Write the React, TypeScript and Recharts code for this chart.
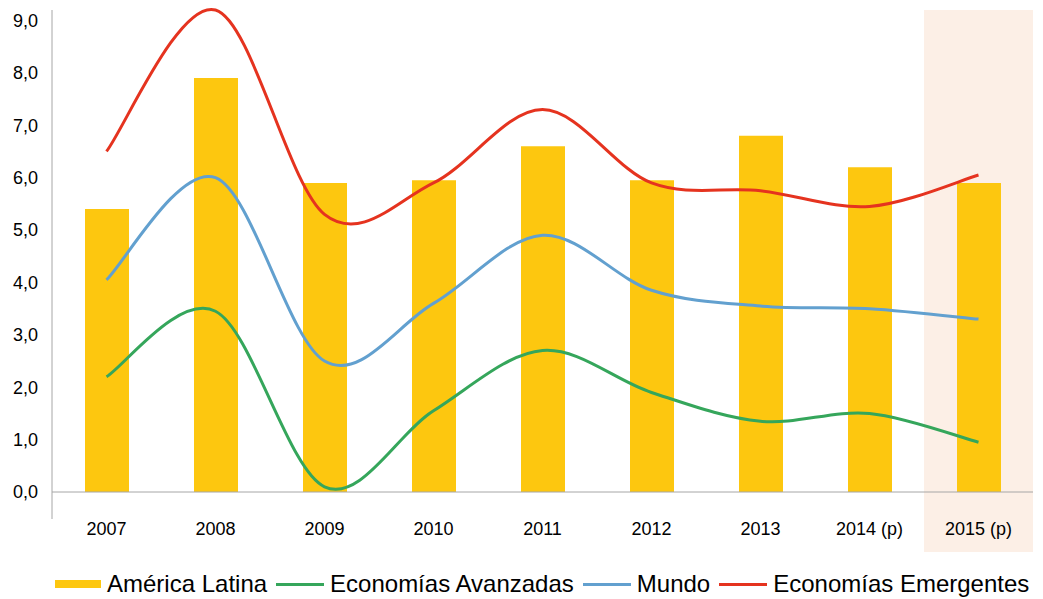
import {
  ComposedChart,
  Bar,
  Line,
  XAxis,
  YAxis,
  ReferenceArea,
  Legend,
} from "recharts";

// annual growth rates (%), 2014 and 2015 are projections
const years = ["2007", "2008", "2009", "2010", "2011", "2012", "2013", "2014 (p)", "2015 (p)"];
const americaLatina = [5.4, 7.9, 5.9, 5.95, 6.6, 5.95, 6.8, 6.2, 5.9];
const avanzadas = [2.2, 3.45, 0.1, 1.55, 2.7, 1.9, 1.35, 1.5, 0.95];
const mundo = [4.05, 6.0, 2.5, 3.6, 4.9, 3.85, 3.55, 3.5, 3.3];
const emergentes = [6.5, 9.2, 5.3, 5.9, 7.3, 5.9, 5.75, 5.45, 6.05];
const yTicks = [0, 1, 2, 3, 4, 5, 6, 7, 8, 9];
const projectedYear = "2015 (p)";

const data = years.map((year, i) => ({
  year,
  americaLatina: americaLatina[i],
  avanzadas: avanzadas[i],
  mundo: mundo[i],
  emergentes: emergentes[i],
}));

const COLORS = {
  bar: "#fdc70f",
  green: "#35a65b",
  blue: "#62a0cf",
  red: "#e5331f",
  axis: "#a6a6a6",
  highlight: "#fcefe6",
};

const FONT = "'Liberation Sans', Arial, sans-serif";

const legendItems = [
  { label: "América Latina", color: COLORS.bar, bar: true },
  { label: "Economías Avanzadas", color: COLORS.green, bar: false },
  { label: "Mundo", color: COLORS.blue, bar: false },
  { label: "Economías Emergentes", color: COLORS.red, bar: false },
];

// spreadsheet-style smoothed line: cardinal bezier through every point
function smoothCurve(context: any) {
  let pts: [number, number][] = [];
  return {
    areaStart() {},
    areaEnd() {},
    lineStart() {
      pts = [];
    },
    point(x: number, y: number) {
      pts.push([+x, +y]);
    },
    lineEnd() {
      const n = pts.length;
      if (!n) return;
      context.moveTo(pts[0][0], pts[0][1]);
      for (let i = 0; i < n - 1; i++) {
        const p0 = pts[Math.max(i - 1, 0)];
        const p1 = pts[i];
        const p2 = pts[i + 1];
        const p3 = pts[Math.min(i + 2, n - 1)];
        context.bezierCurveTo(
          p1[0] + (p2[0] - p0[0]) / 6,
          p1[1] + (p2[1] - p0[1]) / 6,
          p2[0] - (p3[0] - p1[0]) / 6,
          p2[1] - (p3[1] - p1[1]) / 6,
          p2[0],
          p2[1]
        );
      }
    },
  };
}

const formatTick = (v: number) => v.toFixed(1).replace(".", ",");

function ChartLegend() {
  return (
    <div
      style={{
        display: "flex",
        alignItems: "center",
        height: 30,
        paddingLeft: 55,
        fontSize: 24,
        fontFamily: FONT,
        color: "#000",
        whiteSpace: "nowrap",
      }}
    >
      {legendItems.map((item) => (
        <div key={item.label} style={{ display: "flex", alignItems: "center", marginRight: 9 }}>
          <span
            style={{
              display: "inline-block",
              width: item.bar ? 46 : 48,
              height: item.bar ? 8 : 3,
              background: item.color,
              marginRight: 6,
            }}
          />
          <span>{item.label}</span>
        </div>
      ))}
    </div>
  );
}

export default function App() {
  return (
    <div style={{ position: "absolute", left: 0, top: 0, width: 1043, height: 599, background: "#fff", fontFamily: FONT }}>
      <ComposedChart
        width={1043}
        height={599}
        data={data}
        margin={{ top: 10, right: 10, bottom: 0, left: 0 }}
      >
        {/* shaded projection column, running down past the axis labels */}
        <ReferenceArea
          x1={projectedYear}
          x2={projectedYear}
          shape={(p: any) => (
            <rect x={p.x} y={p.y} width={p.width} height={p.height + 60} fill={COLORS.highlight} />
          )}
        />
        {/* vertical axis line, extended below the category axis */}
        <ReferenceArea
          x1={years[0]}
          x2={years[years.length - 1]}
          shape={(p: any) => (
            <line x1={p.x} x2={p.x} y1={p.y} y2={p.y + p.height + 27} stroke={COLORS.axis} strokeWidth={1} />
          )}
        />
        <XAxis
          dataKey="year"
          interval={0}
          height={77}
          tickLine={false}
          tickSize={0}
          tickMargin={30}
          axisLine={{ stroke: COLORS.axis }}
          tick={{ fontSize: 18, fill: "#000" }}
        />
        <YAxis
          width={52}
          domain={[0, 9.2]}
          ticks={yTicks}
          tickFormatter={formatTick}
          axisLine={false}
          tickLine={false}
          tickSize={0}
          tickMargin={14}
          tick={{ fontSize: 18, fill: "#000" }}
        />
        <Bar dataKey="americaLatina" name="América Latina" fill={COLORS.bar} barSize={44} isAnimationActive={false} />
        <Line dataKey="avanzadas" name="Economías Avanzadas" type={smoothCurve as any} stroke={COLORS.green} strokeWidth={3} dot={false} activeDot={false} isAnimationActive={false} />
        <Line dataKey="mundo" name="Mundo" type={smoothCurve as any} stroke={COLORS.blue} strokeWidth={3} dot={false} activeDot={false} isAnimationActive={false} />
        <Line dataKey="emergentes" name="Economías Emergentes" type={smoothCurve as any} stroke={COLORS.red} strokeWidth={3} dot={false} activeDot={false} isAnimationActive={false} />
        <Legend
          verticalAlign="bottom"
          align="left"
          height={30}
          content={<ChartLegend />}
          wrapperStyle={{ left: 0, bottom: 0, width: 1043 }}
        />
      </ComposedChart>
    </div>
  );
}
